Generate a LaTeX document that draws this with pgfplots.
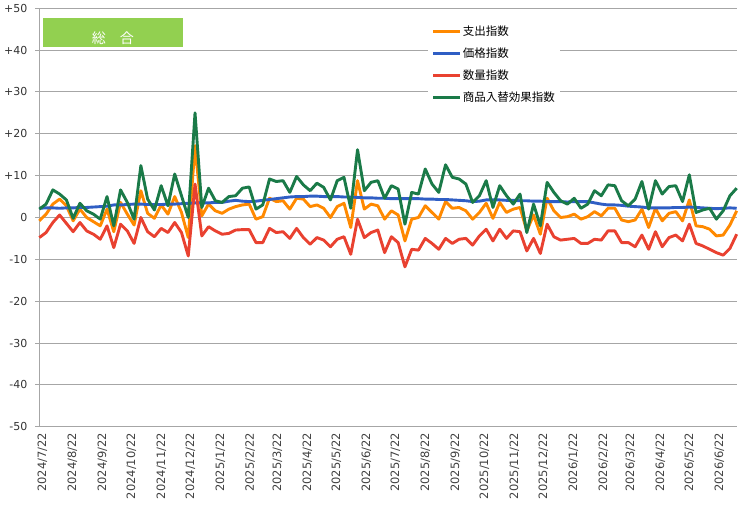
\documentclass[border=0pt]{standalone}
\usepackage{pgfplots}
\pgfplotsset{compat=1.18}
\usepackage{pgfplotstable}
\usepackage{fontspec}
\setmainfont{DejaVu Sans}
\newfontfamily\jp{Noto Sans CJK JP}
\definecolor{cOrange}{RGB}{255,137,0}
\definecolor{cBlue}{RGB}{47,94,196}
\definecolor{cRed}{RGB}{233,65,48}
\definecolor{cGreen}{RGB}{26,122,72}
\definecolor{gridgray}{RGB}{166,166,166}
\definecolor{boxgreen}{RGB}{146,208,80}
\pgfplotstableread{
k spend price qty swap
0 -0.8 2.2 -4.8 2.0
1 0.8 2.3 -3.6 3.2
2 3.2 2.3 -1.2 6.6
3 4.4 2.2 0.6 5.6
4 2.8 2.3 -1.4 4.2
5 -0.8 2.3 -3.4 -0.2
6 2.0 2.4 -1.2 3.4
7 0.0 2.4 -3.2 1.6
8 -1.0 2.5 -4.0 0.8
9 -2.0 2.6 -5.2 -0.4
10 2.0 2.7 -2.0 5.0
11 -3.4 3.0 -7.2 -2.0
12 3.6 3.0 -1.6 6.6
13 0.8 3.1 -3.2 3.6
14 -1.8 3.2 -6.2 -0.4
15 6.4 3.2 0.0 12.4
16 1.0 3.1 -3.4 4.4
17 -0.2 3.1 -4.6 1.8
18 3.0 3.1 -2.6 7.6
19 0.8 3.2 -3.6 2.8
20 5.0 3.2 -1.2 10.4
21 1.2 3.3 -3.6 5.2
22 -4.8 3.4 -9.2 0.0
23 17.2 3.5 8.0 25.0
24 0.4 3.5 -4.4 2.4
25 3.2 3.5 -2.2 7.0
26 1.6 3.6 -3.2 4.0
27 1.0 3.6 -4.0 3.6
28 2.0 3.9 -3.8 5.0
29 2.6 4.1 -3.0 5.2
30 3.0 3.9 -2.9 7.0
31 3.2 3.8 -2.9 7.3
32 -0.4 3.9 -6.0 2.0
33 0.2 4.1 -6.0 3.0
34 4.6 4.3 -2.6 9.2
35 3.8 4.5 -3.6 8.6
36 4.0 4.7 -3.4 8.8
37 2.0 4.9 -5.0 6.0
38 4.6 5.0 -2.6 9.8
39 4.4 5.0 -4.8 7.8
40 2.6 5.1 -6.4 6.4
41 3.0 5.1 -4.8 8.2
42 2.2 5.0 -5.4 7.2
43 0.0 5.0 -7.0 4.2
44 2.6 5.0 -5.2 8.8
45 3.4 4.9 -4.6 9.6
46 -2.4 4.9 -8.8 2.2
47 8.8 4.8 -0.4 16.2
48 2.0 4.7 -4.8 6.4
49 3.2 4.7 -3.6 8.4
50 2.8 4.6 -3.0 8.8
51 -0.4 4.6 -8.4 4.6
52 1.6 4.5 -4.6 7.6
53 0.6 4.5 -6.0 6.8
54 -5.6 4.5 -11.8 -1.6
55 -0.4 4.5 -7.6 6.0
56 0.0 4.5 -7.8 5.6
57 2.8 4.4 -5.0 11.6
58 1.2 4.4 -6.2 8.0
59 -0.4 4.3 -7.6 6.0
60 3.8 4.3 -5.0 12.6
61 2.2 4.2 -6.2 9.6
62 2.4 4.1 -5.2 9.2
63 1.6 4.0 -5.0 8.0
64 -0.4 3.8 -6.6 3.6
65 1.2 3.9 -4.4 5.2
66 3.4 4.2 -2.8 8.8
67 -0.2 4.2 -5.6 2.4
68 3.6 4.2 -2.8 7.6
69 1.2 4.1 -5.0 5.2
70 2.0 4.1 -3.2 3.2
71 2.4 4.0 -3.4 5.6
72 -3.2 4.0 -8.0 -3.6
73 0.6 3.9 -5.0 3.2
74 -4.0 3.9 -8.6 -2.0
75 4.6 3.8 -1.6 8.4
76 1.6 3.8 -4.6 6.0
77 0.0 3.8 -5.4 4.0
78 0.2 3.7 -5.2 3.2
79 0.8 3.8 -5.0 4.6
80 -0.4 3.8 -6.2 2.2
81 0.2 3.8 -6.2 3.2
82 1.4 3.5 -5.2 6.4
83 0.4 3.2 -5.4 5.2
84 2.2 3.0 -3.2 7.8
85 2.2 3.0 -3.2 7.6
86 -0.6 2.9 -6.0 4.0
87 -1.0 2.7 -6.0 2.8
88 -0.6 2.6 -7.0 4.4
89 2.0 2.5 -4.2 8.6
90 -2.4 2.3 -7.6 2.0
91 2.2 2.3 -3.4 8.8
92 -0.8 2.3 -7.0 5.6
93 1.0 2.3 -4.8 7.4
94 1.4 2.4 -4.2 7.6
95 -0.8 2.4 -5.6 3.8
96 4.2 2.5 -1.6 10.2
97 -2.0 2.4 -6.2 1.2
98 -2.2 2.3 -6.8 1.8
99 -2.8 2.2 -7.6 2.2
100 -4.4 2.1 -8.4 -0.4
101 -4.2 2.2 -9.0 1.6
102 -1.8 2.3 -7.4 5.2
103 1.6 2.2 -4.0 7.0
}\datatable
\begin{document}
\begin{tikzpicture}
\useasboundingbox (0,0) rectangle (745pt,510pt);
\begin{axis}[
  at={(39.3pt,83.3pt)}, anchor=south west,
  width=697.4pt, height=418.4pt, scale only axis,
  xmin=0, xmax=721, ymin=-50, ymax=50,
  axis x line*=bottom, axis y line*=left,
  axis line style={draw=gridgray, line width=1pt},
  ytick={-50,-40,...,50},
  yticklabels={-50,-40,-30,-20,-10,0,+10,+20,+30,+40,+50},
  ymajorgrids, grid style={draw=gridgray, line width=1pt},
  xtick={0,31,62,92,123,153,184,215,243,274,304,335,365,396,427,457,488,518,549,580,608,639,669,700},
  xticklabels={2024/7/22,2024/8/22,2024/9/22,2024/10/22,2024/11/22,2024/12/22,2025/1/22,2025/2/22,2025/3/22,2025/4/22,2025/5/22,2025/6/22,2025/7/22,2025/8/22,2025/9/22,2025/10/22,2025/11/22,2025/12/22,2026/1/22,2026/2/22,2026/3/22,2026/4/22,2026/5/22,2026/6/22},
  x tick label style={rotate=90, anchor=east, font=\fontsize{11.5}{13}\selectfont, text=black!75, inner sep=2pt, yshift=-3pt},
  y tick label style={font=\fontsize{11}{13}\selectfont, text=black!80, xshift=-4.5pt},
  y tick style={draw=gridgray, line width=1pt},
  x tick style={draw=none},
  major tick length=4pt,
  tick align=outside,
  legend style={at={(axis description cs:0.557,0.972)}, anchor=north west, fill=white, draw=none,
    font=\jp\fontsize{11.5}{14}\selectfont, row sep=8pt, inner xsep=4pt, inner ysep=4pt,
    nodes={inner sep=1pt, text height=10pt, text depth=2pt}},
  legend cell align=left,
  legend image code/.code={\draw[#1] (0pt,0pt) -- (27pt,0pt);},
  every axis plot/.append style={line width=2.9pt, line join=round},
  clip=false,
]
\fill[boxgreen] (axis cs:3.8,40.8) rectangle (axis cs:148.6,47.6);
\node[text=white, font=\jp\fontsize{14}{16}\selectfont] at (axis cs:76,42.9) {総　合};
\addplot[cOrange, no markers] table[x expr=\thisrow{k}*7, y=spend] {\datatable};
\addlegendentry{支出指数}
\addplot[cBlue, no markers] table[x expr=\thisrow{k}*7, y=price] {\datatable};
\addlegendentry{価格指数}
\addplot[cRed, no markers] table[x expr=\thisrow{k}*7, y=qty] {\datatable};
\addlegendentry{数量指数}
\addplot[cGreen, no markers] table[x expr=\thisrow{k}*7, y=swap] {\datatable};
\addlegendentry{商品入替効果指数}
\end{axis}
\end{tikzpicture}
\end{document}
